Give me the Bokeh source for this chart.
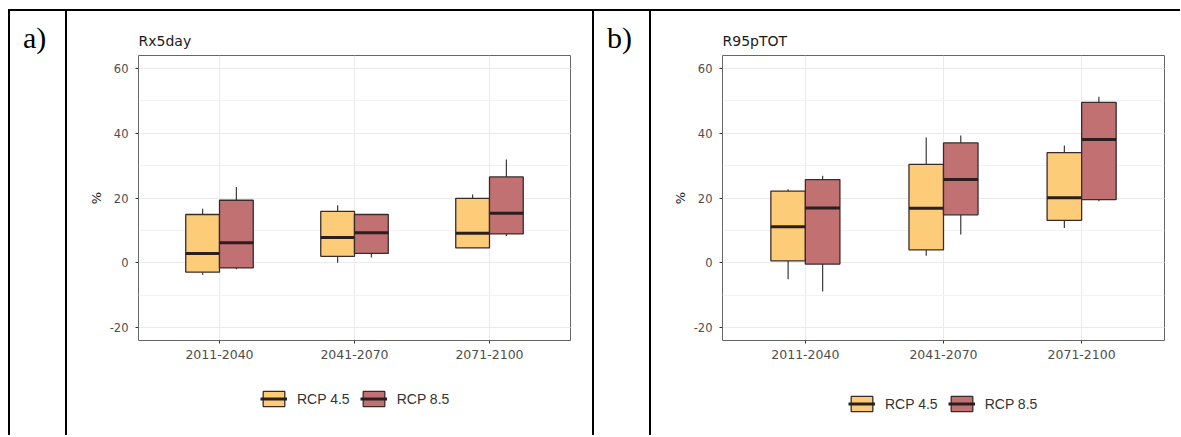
from bokeh.plotting import figure
from bokeh.models import (ColumnDataSource, FactorRange, Range1d, SingleIntervalTicker,
                          Legend, LegendItem, Div, Spacer)
from bokeh.transform import dodge
from bokeh.layouts import row, column
from bokeh.embed import file_html
from bokeh.resources import INLINE

periods = ["2011-2040", "2041-2070", "2071-2100"]
scenarios = ["RCP 4.5", "RCP 8.5"]
titles = ["Rx5day", "R95pTOT"]
panel_tags = ["a)", "b)"]
y_ticks = [-20, 0, 20, 40, 60]
y_tick_labels = ["-20", "0", "20", "40", "60"]

# Rx5day (% change) box statistics per period
rx_low_45 = [-3.7, 0.0, 4.6]
rx_q1_45 = [-2.9, 2.0, 4.6]
rx_med_45 = [2.9, 7.8, 9.1]
rx_q3_45 = [14.9, 15.9, 19.9]
rx_up_45 = [16.7, 17.8, 21.1]
rx_low_85 = [-2.0, 1.6, 8.3]
rx_q1_85 = [-1.6, 2.9, 8.9]
rx_med_85 = [6.2, 9.3, 15.3]
rx_q3_85 = [19.3, 14.9, 26.5]
rx_up_85 = [23.4, 14.9, 31.9]

# R95pTOT (% change) box statistics per period
r95_low_45 = [-5.1, 2.2, 10.7]
r95_q1_45 = [0.6, 4.0, 13.1]
r95_med_45 = [11.1, 16.8, 20.1]
r95_q3_45 = [22.1, 30.4, 34.0]
r95_up_45 = [22.7, 38.7, 36.2]
r95_low_85 = [-8.9, 8.7, 19.0]
r95_q1_85 = [-0.4, 14.8, 19.5]
r95_med_85 = [16.9, 25.7, 38.1]
r95_q3_85 = [25.7, 37.0, 49.5]
r95_up_85 = [26.9, 39.3, 51.3]

FILL = {"RCP 4.5": "#FDCC78", "RCP 8.5": "#C27173"}
EDGE = "#3A2B2B"
MED = "#2B1E1E"
WHISK = "#3A3A3A"
FONT = "DejaVu Sans"
PLOT_H = 361   # plot canvas (below a 2px css top rule)
LEG_H = 63     # legend strip under each plot
TAG_H = 2 + PLOT_H + LEG_H
OFFS = [-0.125, 0.125]


def add_boxes(p, stats, with_whiskers=True, visible=True):
    rends = []
    for (scen, src), off in zip(stats, OFFS):
        cx = dodge("period", off, range=p.x_range)
        x0 = dodge("period", off - 0.125, range=p.x_range)
        x1 = dodge("period", off + 0.125, range=p.x_range)
        if with_whiskers:
            p.segment(x0=cx, x1=cx, y0="q3", y1="up", source=src, line_color=WHISK, line_width=1.2)
            p.segment(x0=cx, x1=cx, y0="q1", y1="low", source=src, line_color=WHISK, line_width=1.2)
        box = p.vbar(x=cx, width=0.25, top="q3", bottom="q1", source=src,
                     fill_color=FILL[scen], line_color=EDGE, line_width=1.3)
        medr = p.segment(x0=x0, x1=x1, y0="med", y1="med", source=src,
                         line_color=MED, line_width=3)
        box.visible = visible
        medr.visible = visible
        rends.append((scen, box, medr))
    return rends


def make_panel(title, stats, width, mb_right, leg_xy):
    xr = FactorRange(factors=periods, range_padding=0.1, range_padding_units="absolute")
    p = figure(width=width, height=PLOT_H, x_range=xr, y_range=Range1d(-24, 64),
               output_backend="svg", toolbar_location=None,
               min_border_left=71, min_border_right=mb_right,
               min_border_top=44, min_border_bottom=32)
    p.styles = {"border-top": "2px solid black"}
    p.title.text = title
    p.title.text_font = FONT
    p.title.text_font_size = "14px"
    p.title.text_font_style = "normal"
    p.title.text_color = "#1A1A1A"
    p.title.align = "left"
    p.title.standoff = 14

    add_boxes(p, stats)

    yt = SingleIntervalTicker(interval=20, num_minor_ticks=2)
    p.yaxis.ticker = yt
    p.ygrid.ticker = yt
    p.yaxis.major_label_overrides = dict(zip(y_ticks, y_tick_labels))
    p.yaxis.axis_label = "%"
    p.yaxis.axis_label_text_font = FONT
    p.yaxis.axis_label_text_font_size = "13px"
    p.yaxis.axis_label_text_font_style = "normal"
    p.yaxis.axis_label_text_color = "#1A1A1A"
    p.yaxis.axis_label_standoff = 3
    p.axis.axis_line_color = None
    p.axis.major_tick_line_color = "#333333"
    p.axis.major_tick_out = 3
    p.axis.major_tick_in = 0
    p.axis.minor_tick_line_color = None
    p.axis.major_label_standoff = 6
    p.yaxis.major_label_text_font = FONT
    p.yaxis.major_label_text_font_size = "11.5px"
    p.yaxis.major_label_text_color = "#4D4D4D"
    p.xaxis.major_label_text_font = FONT
    p.xaxis.major_label_text_font_size = "12.5px"
    p.xaxis.major_label_text_color = "#4D4D4D"

    p.xgrid.grid_line_color = "#EBEBEB"
    p.ygrid.grid_line_color = "#EBEBEB"
    p.ygrid.minor_grid_line_color = "#F2F2F2"
    p.outline_line_color = "#666666"
    p.outline_line_width = 1

    # legend strip below the plot (same x scale, legend-only view of the same boxes)
    lf = figure(width=width, height=LEG_H, x_range=xr, y_range=Range1d(-24, 64),
                output_backend="svg", toolbar_location=None, title=None,
                x_axis_location=None, y_axis_location=None,
                min_border_left=71, min_border_right=mb_right,
                min_border_top=0, min_border_bottom=0)
    lf.outline_line_color = None
    lf.xgrid.grid_line_color = None
    lf.ygrid.grid_line_color = None
    lf.xgrid.visible = False
    lf.ygrid.visible = False
    rends = add_boxes(lf, stats, with_whiskers=False, visible=False)
    items = [LegendItem(label=scen, renderers=[box, medr]) for scen, box, medr in rends]
    leg = Legend(items=items, orientation="horizontal", location=leg_xy,
                 glyph_width=27, glyph_height=19, label_height=19,
                 label_standoff=10, spacing=10, click_policy="none",
                 label_text_font="Liberation Sans", label_text_font_size="14px",
                 label_text_color="#333333", border_line_color=None,
                 background_fill_alpha=0, padding=5, margin=0)
    lf.add_layout(leg)
    return column(p, lf, spacing=0)


def make_tag(tag):
    return Div(text=tag, width=59, height=TAG_H, margin=0,
               styles={"box-sizing": "border-box",
                       "border-top": "2px solid black",
                       "border-left": "2px solid black",
                       "border-right": "2px solid black",
                       "font-family": "Liberation Serif", "font-size": "30px",
                       "line-height": "1.15", "color": "black",
                       "padding-left": "13px", "padding-top": "10px"})


def sources(spec):
    return [(scen, ColumnDataSource(dict(period=periods, low=low, q1=q1, med=med, q3=q3, up=up)))
            for scen, low, q1, med, q3, up in spec]


stats_a = sources([("RCP 4.5", rx_low_45, rx_q1_45, rx_med_45, rx_q3_45, rx_up_45),
                   ("RCP 8.5", rx_low_85, rx_q1_85, rx_med_85, rx_q3_85, rx_up_85)])
stats_b = sources([("RCP 4.5", r95_low_45, r95_q1_45, r95_med_45, r95_q3_45, r95_up_45),
                   ("RCP 8.5", r95_low_85, r95_q1_85, r95_med_85, r95_q3_85, r95_up_85)])

col_a = make_panel(titles[0], stats_a, 525, 22, (122, 25))
col_b = make_panel(titles[1], stats_b, 529, 16, (126, 20))

page = column(Spacer(width=1170, height=9),
              row(Spacer(width=8, height=TAG_H), make_tag(panel_tags[0]), col_a,
                  make_tag(panel_tags[1]), col_b, spacing=0),
              spacing=0)

open("out.html", "w").write(file_html(page, INLINE))
